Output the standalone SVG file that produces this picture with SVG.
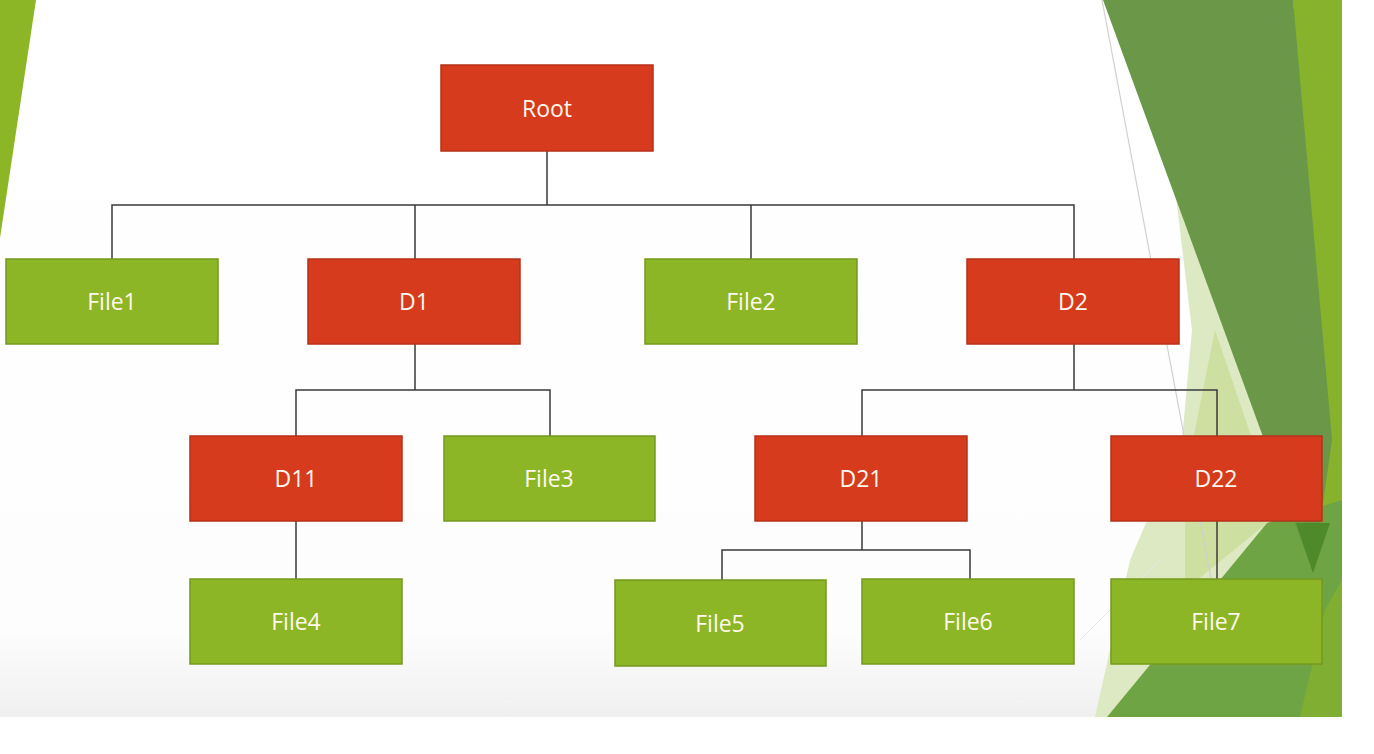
<svg xmlns="http://www.w3.org/2000/svg" width="1374" height="754" viewBox="0 0 1374 754">
<defs>
<linearGradient id="bg" x1="0" y1="0" x2="0" y2="1">
<stop offset="0" stop-color="#ffffff"/>
<stop offset="0.88" stop-color="#fdfdfd"/>
<stop offset="1" stop-color="#f0f0f0"/>
</linearGradient>
<style>
.red{fill:#d53b1c;stroke:#b83018;stroke-width:1.5}
.grn{fill:#8db626;stroke:#76991f;stroke-width:1.5}
.lbl{font-family:"Open Sans","DejaVu Sans",sans-serif;font-size:23px;fill:#fff8ee;text-anchor:middle;dominant-baseline:central}
.con{fill:none;stroke:#3a3a3a;stroke-width:1.5}
</style>
</defs>
<rect width="1374" height="754" fill="#ffffff"/>
<g id="background">
<rect x="0" y="0" width="1342" height="717" fill="url(#bg)"/>
<polygon points="0,0 36,0 0,238" fill="#8db626"/>
<polygon points="1293,0 1342,0 1342,717 1240,717 1313,573" fill="#86b22c"/>
<polygon points="1174,180 1192,330 1182,440 1130,560 1095,717 1342,717 1342,560 1316,575" fill="#dde9c2"/>
<polygon points="1215,330 1250,433 1313,573 1267,523 1185,590 1185,480" fill="#c9dc98" opacity="0.8"/>
<polygon points="1107,717 1267,523 1342,500 1342,717" fill="#6fa444"/>
<polygon points="1300,717 1325,610 1342,580 1342,717" fill="#86b22c" opacity="0.7"/>
<polygon points="1103,0 1293,0 1332,440 1313,573" fill="#6a9848"/>
<polygon points="1296,523 1330,523 1313,573" fill="#4f8a2a"/>
<line x1="1102" y1="0" x2="1215" y2="600" stroke="#d0d0d0" stroke-width="1.2"/>
<line x1="1080" y1="640" x2="1160" y2="560" stroke="#e6e6e6" stroke-width="1"/>
</g>
<g id="connectors">
<path class="con" d="M547,151 V205 M112,259 V205 H1074 V259 M415,205 V259 M751,205 V259"/>
<path class="con" d="M415,344 V390 M296,436 V390 H550 V436"/>
<path class="con" d="M1074,344 V390 M862,436 V390 H1217 V436"/>
<path class="con" d="M296,521 V579"/>
<path class="con" d="M862,521 V550 M722,580 V550 H970 V579"/>
<path class="con" d="M1217,521 V579"/>
</g>
<g id="root"><rect class="red" x="441" y="65" width="212" height="86"/><text class="lbl" x="547" y="108">Root</text></g>
<g id="file1"><rect class="grn" x="6" y="259" width="212" height="85"/><text class="lbl" x="112" y="301">File1</text></g>
<g id="d1"><rect class="red" x="308" y="259" width="212" height="85"/><text class="lbl" x="414" y="301">D1</text></g>
<g id="file2"><rect class="grn" x="645" y="259" width="212" height="85"/><text class="lbl" x="751" y="301">File2</text></g>
<g id="d2"><rect class="red" x="967" y="259" width="212" height="85"/><text class="lbl" x="1073" y="301">D2</text></g>
<g id="d11"><rect class="red" x="190" y="436" width="212" height="85"/><text class="lbl" x="296" y="478">D11</text></g>
<g id="file3"><rect class="grn" x="444" y="436" width="211" height="85"/><text class="lbl" x="549" y="478">File3</text></g>
<g id="d21"><rect class="red" x="755" y="436" width="212" height="85"/><text class="lbl" x="861" y="478">D21</text></g>
<g id="d22"><rect class="red" x="1111" y="436" width="211" height="85"/><text class="lbl" x="1216" y="478">D22</text></g>
<g id="file4"><rect class="grn" x="190" y="579" width="212" height="85"/><text class="lbl" x="296" y="621">File4</text></g>
<g id="file5"><rect class="grn" x="615" y="580" width="211" height="86"/><text class="lbl" x="720" y="623">File5</text></g>
<g id="file6"><rect class="grn" x="862" y="579" width="212" height="85"/><text class="lbl" x="968" y="621">File6</text></g>
<g id="file7"><rect class="grn" x="1111" y="579" width="211" height="85"/><text class="lbl" x="1216" y="621">File7</text></g>
</svg>
